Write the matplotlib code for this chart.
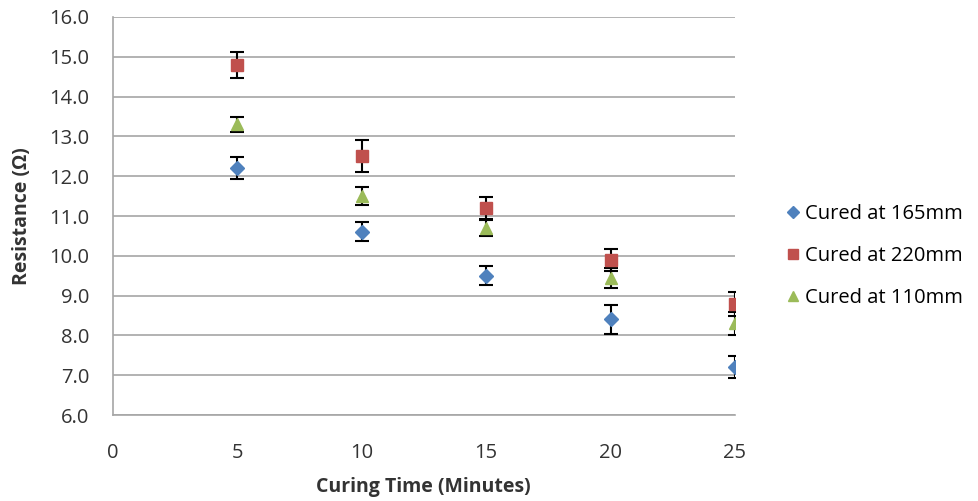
import numpy as np
import matplotlib
matplotlib.use('Agg')
import matplotlib.pyplot as plt
from matplotlib.lines import Line2D

plt.rcParams['font.family'] = ['Open Sans', 'DejaVu Sans']

curing_time = [5, 10, 15, 20, 25]

res_165 = [12.2, 10.6, 9.5, 8.4, 7.2]
err_165 = [0.28, 0.24, 0.24, 0.36, 0.27]

res_220 = [14.8, 12.5, 11.2, 9.9, 8.8]
err_220 = [0.33, 0.4, 0.28, 0.28, 0.3]

res_110 = [13.3, 11.5, 10.7, 9.45, 8.3]
err_110 = [0.2, 0.22, 0.2, 0.25, 0.28]

series = [
    ('Cured at 165mm', res_165, err_165, 'D', '#4F81BD', 7),
    ('Cured at 220mm', res_220, err_220, 's', '#C0504D', 8),
    ('Cured at 110mm', res_110, err_110, '^', '#9BBB59', 8.5),
]

fig = plt.figure(figsize=(9.79, 5.01), dpi=100)
ax = fig.add_axes([113 / 979, 1 - 415 / 501, (735 - 113) / 979, (415 - 17) / 501])

handles = []
for label, vals, errs, marker, color, ms in series:
    ax.errorbar(curing_time, vals, yerr=errs, fmt=marker, color=color,
                markersize=ms, ecolor='black', elinewidth=1.5, capsize=5,
                capthick=1.5, zorder=3)
    handles.append(Line2D([], [], linestyle='none', marker=marker, color=color,
                          markersize=ms - 1, label=label))

ax.set_xlim(0, 25)
ax.set_ylim(6, 16)
ax.set_xticks(range(0, 26, 5))
ax.set_yticks(np.arange(6, 16.1, 1))
ax.set_yticklabels(['{:.1f}'.format(v) for v in np.arange(6, 16.1, 1)])
ax.tick_params(length=0, labelsize=14.5, colors='#333333')
ax.tick_params(axis='y', pad=17)
ax.tick_params(axis='x', pad=20)
ax.grid(axis='y', color='#A6A6A6', linewidth=1.2)
ax.set_axisbelow(True)
for side in ['top', 'right']:
    ax.spines[side].set_visible(False)
for side in ['left', 'bottom']:
    ax.spines[side].set_color('#A6A6A6')
    ax.spines[side].set_linewidth(1.2)

fig.text(423 / 979, 1 - 487 / 501, 'Curing Time (Minutes)', fontsize=14,
         fontweight='bold', color='#333333', ha='center', va='center')
fig.text(22 / 979, 1 - 216 / 501, 'Resistance (Ω)', fontsize=14,
         fontweight='bold', color='#333333', ha='center', va='center', rotation=90)

fig.legend(handles=handles, loc='center left', bbox_to_anchor=(783 / 979, 1 - 256 / 501),
           frameon=False, fontsize=14.5, handletextpad=0.1, labelspacing=1.08,
           handlelength=1.0, borderaxespad=0, borderpad=0)

fig.savefig('out.png', dpi=100)
